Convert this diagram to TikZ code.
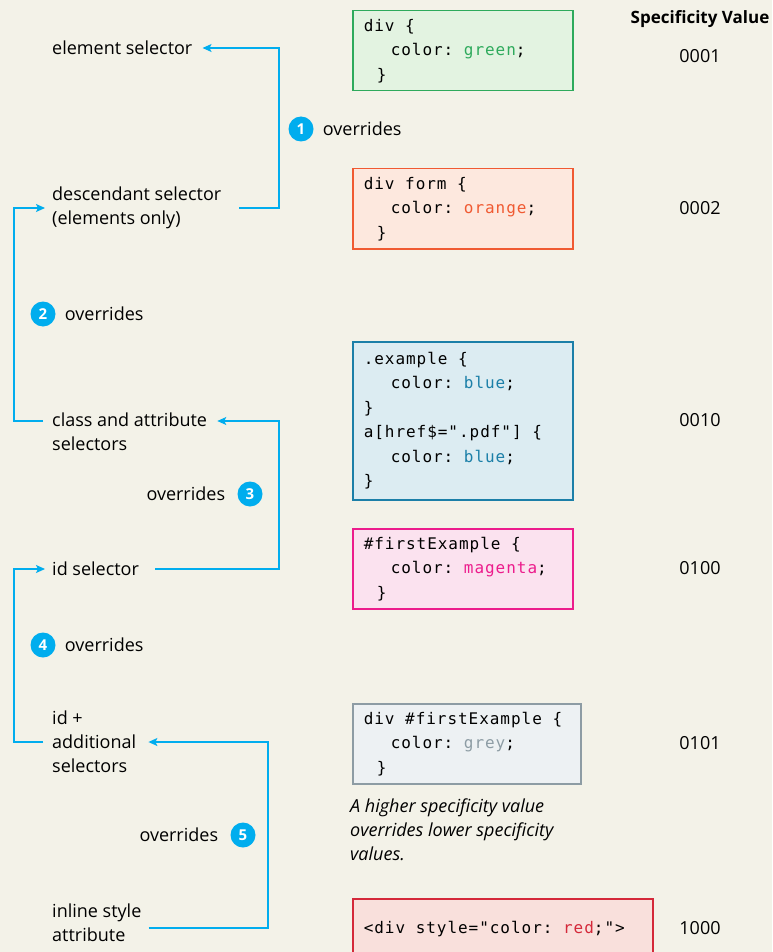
\documentclass[tikz,border=0pt]{standalone}
\usepackage{fontspec}
\setmainfont{Open Sans}
\newfontfamily\codefont[LetterSpace=6]{DejaVu Sans Mono}
\usetikzlibrary{arrows.meta, calc}

\definecolor{paper}{HTML}{F3F2E8}
\definecolor{flowblue}{HTML}{00ADEE}
\definecolor{grnline}{HTML}{2EAA5C}
\definecolor{grnfill}{HTML}{E3F3E1}
\definecolor{orgline}{HTML}{F05A32}
\definecolor{orgfill}{HTML}{FDE8DE}
\definecolor{bluline}{HTML}{1B7FA8}
\definecolor{blufill}{HTML}{DCECF2}
\definecolor{magline}{HTML}{EC1C8C}
\definecolor{magfill}{HTML}{FBE2EF}
\definecolor{gryline}{HTML}{8D9CA4}
\definecolor{gryfill}{HTML}{EDF1F3}
\definecolor{redline}{HTML}{D4293A}
\definecolor{redfill}{HTML}{F9E0DC}

\newcommand{\csp}{\hspace*{10.6pt}}

\begin{document}
\begin{tikzpicture}[x=1pt, y=-1pt,
  sel/.style={anchor=west, align=left, inner sep=0pt, font=\fontsize{18}{24}\selectfont},
  remark/.style={inner sep=0pt, font=\fontsize{18}{24}\selectfont},
  specval/.style={inner sep=0pt, font=\fontsize{18}{20}\selectfont},
  badge/.style={circle, fill=flowblue, text=white, inner sep=0pt, minimum size=25pt, font=\fontsize{15}{15}\selectfont\bfseries},
  flow/.style={draw=flowblue, line width=1.4pt, -{Stealth[length=9pt, width=8pt, inset=2pt]}},
  codebox/.style={anchor=north west, align=left, draw=#1line, fill=#1fill, line width=1.5pt, inner xsep=11pt, inner ysep=0pt, minimum height=80pt, font=\codefont\fontsize{16}{24.5}\selectfont}
]
\path[use as bounding box, fill=paper] (0,0) rectangle (772,952);

\node[sel] (elem) at (52,48) {element selector};
\node[sel] (desc) at (52,208) {descendant selector\\(elements only)};
\node[sel] (cls) at (52,432) {class and attribute\\selectors};
\node[sel] (ids) at (52,569) {id selector};
\node[sel] (idp) at (52,742) {id +\\additional\\selectors};
\node[sel] (inl) at (52,923) {inline style\\attribute};

\coordinate (railL) at (14,0);
\coordinate (railR) at (279,0);
\coordinate (railB) at (268,0);
\coordinate (clsTop) at ($(cls.east)+(0,-11)$);
\coordinate (clsTopW) at ($(cls.west)+(0,-11)$);
\coordinate (inlBot) at ($(inl.east)+(0,5)$);

\draw[flow, shorten <=18pt, shorten >=10pt] (desc.east) -| (railR |- elem.east) -- (elem.east);
\draw[flow, shorten <=9pt, shorten >=7pt] (clsTopW) -| (railL |- desc.west) -- (desc.west);
\draw[flow, shorten <=16pt, shorten >=10pt] (ids.east) -| (railR |- clsTop) -- (clsTop);
\draw[flow, shorten <=9pt, shorten >=7pt] (idp.west) -| (railL |- ids.west) -- (ids.west);
\draw[flow, shorten <=7pt, shorten >=12pt] (inlBot) -| (railB |- idp.east) -- (idp.east);

\node[badge] (b1) at (301,129) {1};
\node[remark, anchor=west] (o1) at ($(b1.east)+(9,0)$) {overrides};
\node[badge] (b2) at (43,314) {2};
\node[remark, anchor=west] (o2) at ($(b2.east)+(9,0)$) {overrides};
\node[badge] (b3) at (250,494) {3};
\node[remark, anchor=east] (o3) at ($(b3.west)+(-12,0)$) {overrides};
\node[badge] (b4) at (43,645) {4};
\node[remark, anchor=west] (o4) at ($(b4.east)+(9,0)$) {overrides};
\node[badge] (b5) at (243,835) {5};
\node[remark, anchor=east] (o5) at ($(b5.west)+(-12,0)$) {overrides};

\node[codebox=grn, text width=198pt] (divbox) at (352,10)
  {div\csp\{\\\hspace*{27pt}color:\csp\textcolor{grnline}{green};\\\hspace*{13pt}\}};
\node[codebox=org, text width=198pt] (formbox) at (352,168)
  {div\csp form\csp\{\\\hspace*{27pt}color:\csp\textcolor{orgline}{orange};\\\hspace*{13pt}\}};
\node[codebox=blu, text width=198pt, minimum height=158pt] (classbox) at (352,341)
  {.example\csp\{\\\hspace*{27pt}color:\csp\textcolor{bluline}{blue};\\\}\\a[href\$=".pdf"]\csp\{\\\hspace*{27pt}color:\csp\textcolor{bluline}{blue};\\\}};
\node[codebox=mag, text width=198pt] (idbox) at (352,528)
  {\#firstExample\csp\{\\\hspace*{27pt}color:\csp\textcolor{magline}{magenta};\\\hspace*{13pt}\}};
\node[codebox=gry, text width=206pt] (idplusbox) at (352,703)
  {div\csp\#firstExample\csp\{\\\hspace*{27pt}color:\csp\textcolor{gryline}{grey};\\\hspace*{13pt}\}};
\node[codebox=red, text width=278pt, minimum height=60pt] (inlinebox) at (352,898)
  {<div\csp style="color:\csp\textcolor{redline}{red};">};

\node[remark, anchor=north west, align=left, font=\fontsize{18}{24}\selectfont\itshape] (hint) at (350,799)
  {A higher specificity value\\overrides lower specificity\\values.};

\node[specval, font=\fontsize{17}{20}\selectfont\bfseries] (head) at (700,19) {Specificity Value};
\node[specval] (v1) at (700,56) {0001};
\node[specval] (v2) at (700,208) {0002};
\node[specval] (v3) at (700,420) {0010};
\node[specval] (v4) at (700,568) {0100};
\node[specval] (v5) at (700,743) {0101};
\node[specval] (v6) at (700,928) {1000};
\end{tikzpicture}
\end{document}
